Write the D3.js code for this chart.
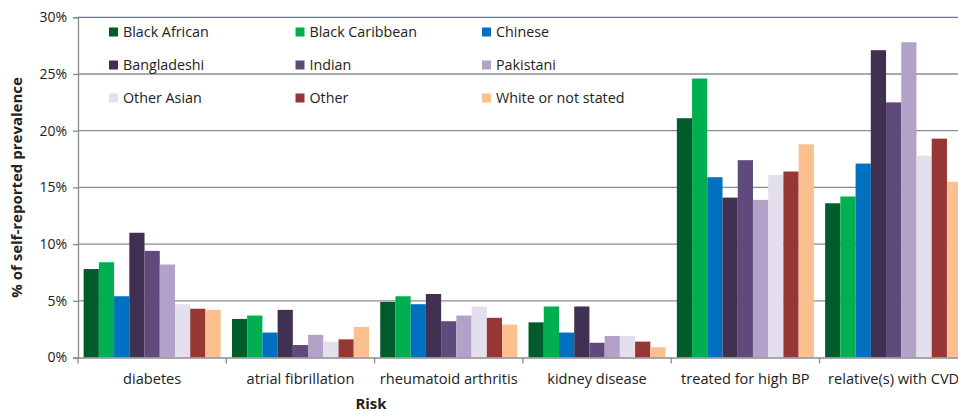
<!DOCTYPE html>
<html><head><meta charset="utf-8">
<script src="https://cdn.jsdelivr.net/npm/d3@7"></script>
<style>body{margin:0;background:#fff;overflow:hidden}svg{display:block}text{font-family:"Open Sans",sans-serif}</style>
</head><body>
<svg id="c" width="958" height="412"></svg>
<script>
const categories = ["diabetes","atrial fibrillation","rheumatoid arthritis","kidney disease","treated for high BP","relative(s) with CVD"];
const series = ["Black African","Black Caribbean","Chinese","Bangladeshi","Indian","Pakistani","Other Asian","Other","White or not stated"];
const colors = ["#005c2a","#00b050","#0070c0","#403152","#604a7b","#b3a2c7","#e4dfec","#953735","#fac090"];
const blackAfrican   = [7.8, 3.4, 4.9, 3.1, 21.1, 13.6];
const blackCaribbean = [8.4, 3.7, 5.4, 4.5, 24.6, 14.2];
const chinese        = [5.4, 2.2, 4.7, 2.2, 15.9, 17.1];
const bangladeshi    = [11.0, 4.2, 5.6, 4.5, 14.1, 27.1];
const indian         = [9.4, 1.1, 3.2, 1.3, 17.4, 22.5];
const pakistani      = [8.2, 2.0, 3.7, 1.9, 13.9, 27.8];
const otherAsian     = [4.7, 1.4, 4.5, 1.9, 16.1, 17.8];
const other          = [4.3, 1.6, 3.5, 1.4, 16.4, 19.3];
const whiteNotStated = [4.2, 2.7, 2.9, 0.9, 18.8, 15.5];
const values = [blackAfrican, blackCaribbean, chinese, bangladeshi, indian, pakistani, otherAsian, other, whiteNotStated];
const yTicks = [0,5,10,15,20,25,30];

const svg = d3.select("#c");
const mLeft = 78, mTop = 17.3, mBottom = 357.5, catW = 148.3;
const mRight = mLeft + catW * categories.length;

const x0 = d3.scaleBand().domain(categories).range([mLeft, mRight]).paddingInner(0).paddingOuter(0);
const x1 = d3.scaleBand().domain(series).range([0, catW]).paddingInner(0).paddingOuter(0.37);
const y = d3.scaleLinear().domain([0,30]).range([mBottom, mTop]);

// gridlines
svg.append("g").selectAll("line").data(yTicks.filter(d => d > 0 && d < 30)).join("line")
  .attr("x1", mLeft).attr("x2", mRight).attr("y1", d => y(d)).attr("y2", d => y(d))
  .attr("stroke", "#8c8c8c").attr("stroke-width", 1.3);
// top border line (blue)
svg.append("line").attr("x1", mLeft).attr("x2", mRight).attr("y1", y(30)).attr("y2", y(30))
  .attr("stroke", "#4a7ebb").attr("stroke-width", 1.2);

// bars
const groups = svg.append("g").selectAll("g").data(categories).join("g")
  .attr("transform", d => `translate(${x0(d)},0)`);
groups.selectAll("rect").data((c, ci) => series.map((s, si) => ({s, si, v: values[si][ci]}))).join("rect")
  .attr("x", d => x1(d.s)).attr("width", x1.bandwidth())
  .attr("y", d => y(d.v)).attr("height", d => mBottom - y(d.v))
  .attr("fill", d => colors[d.si]);

// y axis
const yAxis = svg.append("g").attr("transform", `translate(${mLeft},0)`)
  .call(d3.axisLeft(y).tickValues(yTicks).tickFormat(d => d + "%").tickSize(5).tickPadding(6));
yAxis.select(".domain").attr("stroke", "#8c8c8c").attr("stroke-width", 1.3);
yAxis.selectAll(".tick line").attr("stroke", "#8c8c8c").attr("stroke-width", 1.3);
yAxis.selectAll(".tick text").attr("font-size", 14).attr("fill", "#222").style("font-family", "Open Sans, sans-serif");

// x axis
const xAxis = svg.append("g").attr("transform", `translate(0,${mBottom})`)
  .call(d3.axisBottom(x0).tickSize(0).tickPadding(16));
xAxis.select(".domain").attr("stroke", "#8c8c8c").attr("stroke-width", 1.3);
xAxis.selectAll(".tick text").attr("font-size", 14.6).attr("fill", "#222").style("font-family", "Open Sans, sans-serif");
svg.append("g").selectAll("line").data(d3.range(categories.length + 1)).join("line")
  .attr("x1", i => mLeft + i * catW).attr("x2", i => mLeft + i * catW)
  .attr("y1", mBottom).attr("y2", mBottom + 6)
  .attr("stroke", "#8c8c8c").attr("stroke-width", 1.3);

// axis titles
svg.append("text").attr("transform", `translate(22,${(mTop + mBottom) / 2}) rotate(-90)`)
  .attr("text-anchor", "middle").attr("font-size", 15).attr("font-weight", "bold").attr("fill", "#222")
  .text("% of self-reported prevalence");
svg.append("text").attr("x", 371).attr("y", 409).attr("text-anchor", "middle")
  .attr("font-size", 15).attr("font-weight", "bold").attr("fill", "#222").text("Risk");

// legend
const lg = svg.append("g");
series.forEach((s, i) => {
  const col = i % 3, row = Math.floor(i / 3);
  const gx = 109 + col * 186.5, gy = 32 + row * 33;
  lg.append("rect").attr("x", gx).attr("y", gy - 4.5).attr("width", 9).attr("height", 9).attr("fill", colors[i]);
  lg.append("text").attr("x", gx + 14).attr("y", gy).attr("dy", "0.35em")
    .attr("font-size", 14.3).attr("fill", "#222").text(s);
});
</script>
</body></html>
